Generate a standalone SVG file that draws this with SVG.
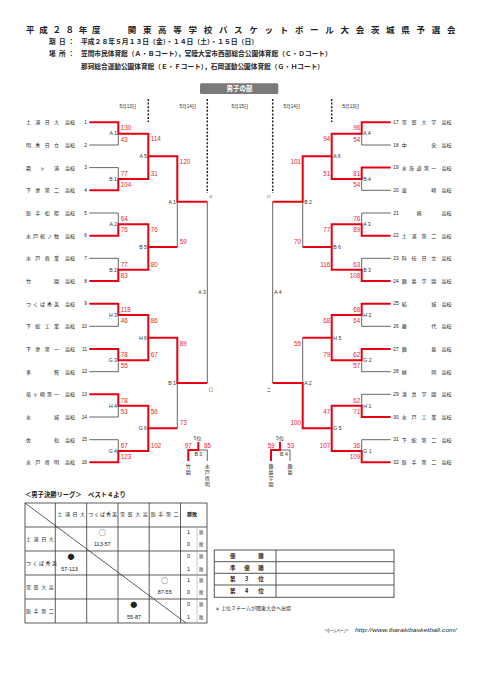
<svg xmlns="http://www.w3.org/2000/svg" width="481" height="680" viewBox="0 0 481 680">
<style>
text{font-family:'Noto Sans CJK JP','Noto Sans',sans-serif;fill:#222}
.hd{font-weight:700}
.nm{font-size:5px}
.no{font-family:'Liberation Sans',sans-serif;font-size:4.8px}
.dt{font-family:'Liberation Sans','Noto Sans CJK JP',sans-serif;font-size:4.6px;text-anchor:middle}
.sc{font-family:'Liberation Sans',sans-serif;font-size:6.3px;fill:#e8262d}
.scr{font-family:'Liberation Sans',sans-serif;font-size:6.3px;fill:#e8262d;text-anchor:end}
.ml{font-family:'Liberation Sans',sans-serif;font-size:5.2px;fill:#333;text-anchor:end}
.mr{font-family:'Liberation Sans',sans-serif;font-size:5.2px;fill:#333}
.kn{font-size:4.5px;fill:#444}
.r{stroke:#e60012;stroke-width:2;fill:none;stroke-linejoin:miter}
.g{stroke:#666;stroke-width:1;fill:none}
.d{stroke:#222;stroke-width:1.5;stroke-dasharray:2 1.6;fill:none}
.tl{stroke:#333;stroke-width:0.8;fill:none}
.tb{font-size:5px}
.tn{font-family:'Liberation Sans',sans-serif;font-size:5.5px;text-anchor:middle}
.sy{font-family:'Noto Sans CJK JP',sans-serif;font-size:7px;text-anchor:middle}
</style>
<rect width="481" height="680" fill="#fff"/>

<g id="header">
<text class="hd" x="26" y="32.5" font-size="8.5" letter-spacing="4.7">平成２８年度</text>
<text class="hd" x="127.7" y="32.5" font-size="8.5" letter-spacing="6.7">関東高等学校バスケットボール大会茨城県予選会</text>
<text class="hd" x="49 59 68" y="44.2" font-size="6.6">期日：</text>
<text class="hd" x="81" y="44.2" font-size="6.6" textLength="177" lengthAdjust="spacingAndGlyphs">平成２８年５月１３日（金）・１４日（土）・１５日（日）</text>
<text class="hd" x="49 59 68" y="55.8" font-size="6.6">場所：</text>
<text class="hd" x="81" y="55.8" font-size="6.6" textLength="250.7" lengthAdjust="spacingAndGlyphs">笠間市民体育館（Ａ・Ｂコート），常陸大宮市西部総合公園体育館（Ｃ・Ｄコート）</text>
<text class="hd" x="81" y="68.5" font-size="6.6" textLength="243" lengthAdjust="spacingAndGlyphs">那珂総合運動公園体育館（Ｅ・Ｆコート），石岡運動公園体育館（Ｇ・Ｈコート）</text>
</g>

<g id="section-title">
<rect x="200" y="83.3" width="78.3" height="10.7" rx="1.5" fill="#7a7a7a"/>
<text class="hd" x="239.5" y="91.2" font-size="6.5" text-anchor="middle" style="fill:#fff">男子の部</text>
</g>

<g id="dates">
<text class="dt" x="128" y="107.5">5月13日</text>
<text class="dt" x="188" y="107.5">5月14日</text>
<text class="dt" x="240" y="107.5">5月15日</text>
<text class="dt" x="292" y="107.5">5月14日</text>
<text class="dt" x="351" y="107.5">5月13日</text>
</g>

<g id="connectors">
<path class="d" d="M148.3 99V122M207.3 99V193M272.7 99V193M331.7 99V122"/>
<path class="g" d="M89.3 145H118.3V133.65M89.3 167.6H118.3V179M89.3 213H118.3V224.3M89.3 258.3H118.3V269.7M89.3 326.3H118.3V315M89.3 371.7H118.3V360.3M89.3 417H118.3V405.7M89.3 439.7H118.3V451"/>
<path class="g" d="M177.3 247V201.7M177.3 428.3V383M207.3 201.7V383"/>
<path class="g" d="M390.7 145H361.7V133.65M390.7 190.3H361.7V179M390.7 213H361.7V224.3M390.7 258.3H361.7V269.7M390.7 326.3H361.7V315M390.7 371.7H361.7V360.3M390.7 394.3H361.7V405.7M390.7 439.7H361.7V451"/>
<path class="g" d="M302.7 247V201.7M302.7 337.7V383M272.7 201.7V383"/>
<path class="r" d="M89.3 122.3H118.3V133.65H148.3V156.3H177.3V201.7H207.3"/>
<path class="r" d="M89.3 190.3H118.3V179H148.3V156.3"/>
<path class="r" d="M89.3 235.7H118.3V224.3H148.3V247"/>
<path class="r" d="M89.3 281H118.3V269.7H148.3V247H177.3"/>
<path class="r" d="M89.3 303.7H118.3V315H148.3V337.7H177.3V383H207.3"/>
<path class="r" d="M89.3 349H118.3V360.3H148.3V337.7"/>
<path class="r" d="M89.3 394.3H118.3V405.7H148.3V428.3"/>
<path class="r" d="M89.3 462.3H118.3V451H148.3V428.3H177.3"/>
<path class="r" d="M390.7 122.3H361.7V133.65H331.7V156.3H302.7V201.7H272.7"/>
<path class="r" d="M390.7 167.6H361.7V179H331.7V156.3"/>
<path class="r" d="M390.7 235.7H361.7V224.3H331.7V247"/>
<path class="r" d="M390.7 281H361.7V269.7H331.7V247H302.7"/>
<path class="r" d="M390.7 303.7H361.7V315H331.7V337.7"/>
<path class="r" d="M390.7 349H361.7V360.3H331.7V337.7H302.7"/>
<path class="r" d="M390.7 417H361.7V405.7H331.7V428.3"/>
<path class="r" d="M390.7 462.3H361.7V451H331.7V428.3H302.7V383H272.7"/>
<path class="g" d="M198.3 450H207.3V461M280 450H290V461"/>
<path class="r" d="M198.3 442V450H188.3V461M280 442V450H271V461"/>
</g>

<g id="teams-left">
<g id="t1"><text class="nm" x="26 35.3 44.7 54" y="124.2">土浦日大</text><text class="nm" x="65" y="124.2">高校</text><text class="no" x="87" y="124" text-anchor="end">1</text></g>
<g id="t2"><text class="nm" x="26 35.3 44.7 54" y="146.9">明秀日立</text><text class="nm" x="65" y="146.9">高校</text><text class="no" x="87" y="146.7" text-anchor="end">2</text></g>
<g id="t3"><text class="nm" x="26 40 54" y="169.5">霞ヶ浦</text><text class="nm" x="65" y="169.5">高校</text><text class="no" x="87" y="169.3" text-anchor="end">3</text></g>
<g id="t4"><text class="nm" x="26 35.3 44.7 54" y="192.2">下妻第二</text><text class="nm" x="65" y="192.2">高校</text><text class="no" x="87" y="192" text-anchor="end">4</text></g>
<g id="t5"><text class="nm" x="26 35.3 44.7 54" y="214.9">取手松陽</text><text class="nm" x="65" y="214.9">高校</text><text class="no" x="87" y="214.7" text-anchor="end">5</text></g>
<g id="t6"><text class="nm" x="26 33 40 47 54" y="237.6">水戸桜ノ牧</text><text class="nm" x="65" y="237.6">高校</text><text class="no" x="87" y="237.4" text-anchor="end">6</text></g>
<g id="t7"><text class="nm" x="26 35.3 44.7 54" y="260.2">水戸商業</text><text class="nm" x="65" y="260.2">高校</text><text class="no" x="87" y="260" text-anchor="end">7</text></g>
<g id="t8"><text class="nm" x="26 54" y="282.9">竹園</text><text class="nm" x="65" y="282.9">高校</text><text class="no" x="87" y="282.7" text-anchor="end">8</text></g>
<g id="t9"><text class="nm" x="26 33 40 47 54" y="305.6">つくば秀英</text><text class="nm" x="65" y="305.6">高校</text><text class="no" x="87" y="305.4" text-anchor="end">9</text></g>
<g id="t10"><text class="nm" x="26 35.3 44.7 54" y="328.2">下館工業</text><text class="nm" x="65" y="328.2">高校</text><text class="no" x="87" y="328" text-anchor="end">10</text></g>
<g id="t11"><text class="nm" x="26 35.3 44.7 54" y="350.9">下妻第一</text><text class="nm" x="65" y="350.9">高校</text><text class="no" x="87" y="350.7" text-anchor="end">11</text></g>
<g id="t12"><text class="nm" x="26 54" y="373.6">多賀</text><text class="nm" x="65" y="373.6">高校</text><text class="no" x="87" y="373.4" text-anchor="end">12</text></g>
<g id="t13"><text class="nm" x="26 33 40 47 54" y="396.2">竜ヶ崎第一</text><text class="nm" x="65" y="396.2">高校</text><text class="no" x="87" y="396" text-anchor="end">13</text></g>
<g id="t14"><text class="nm" x="26 54" y="418.9">水城</text><text class="nm" x="65" y="418.9">高校</text><text class="no" x="87" y="418.7" text-anchor="end">14</text></g>
<g id="t15"><text class="nm" x="26 54" y="441.6">佐和</text><text class="nm" x="65" y="441.6">高校</text><text class="no" x="87" y="441.4" text-anchor="end">15</text></g>
<g id="t16"><text class="nm" x="26 35.3 44.7 54" y="464.2">水戸啓明</text><text class="nm" x="65" y="464.2">高校</text><text class="no" x="87" y="464" text-anchor="end">16</text></g>
</g>

<g id="teams-right">
<g id="t17"><text class="no" x="393.3" y="124">17</text><text class="nm" x="401.7 411.6 421.4 431.3" y="124.2">常磐大学</text><text class="nm" x="441.5" y="124.2">高校</text></g>
<g id="t18"><text class="no" x="393.3" y="146.7">18</text><text class="nm" x="401.7 431.3" y="146.9">中央</text><text class="nm" x="441.5" y="146.9">高校</text></g>
<g id="t19"><text class="no" x="393.3" y="169.3">19</text><text class="nm" x="401.7 409.1 416.5 423.9 431.3" y="169.5">水海道第一</text><text class="nm" x="441.5" y="169.5">高校</text></g>
<g id="t20"><text class="no" x="393.3" y="192">20</text><text class="nm" x="401.7 431.3" y="192.2">波崎</text><text class="nm" x="441.5" y="192.2">高校</text></g>
<g id="t21"><text class="no" x="393.3" y="214.7">21</text><text class="nm" x="416.5" y="214.9">境</text><text class="nm" x="441.5" y="214.9">高校</text></g>
<g id="t22"><text class="no" x="393.3" y="237.4">22</text><text class="nm" x="401.7 411.6 421.4 431.3" y="237.6">土浦第二</text><text class="nm" x="441.5" y="237.6">高校</text></g>
<g id="t23"><text class="no" x="393.3" y="260">23</text><text class="nm" x="401.7 411.6 421.4 431.3" y="260.2">科技日立</text><text class="nm" x="441.5" y="260.2">高校</text></g>
<g id="t24"><text class="no" x="393.3" y="282.7">24</text><text class="nm" x="401.7 411.6 421.4 431.3" y="282.9">鹿島学園</text><text class="nm" x="441.5" y="282.9">高校</text></g>
<g id="t25"><text class="no" x="393.3" y="305.4">25</text><text class="nm" x="401.7 431.3" y="305.6">結城</text><text class="nm" x="441.5" y="305.6">高校</text></g>
<g id="t26"><text class="no" x="393.3" y="328">26</text><text class="nm" x="401.7 431.3" y="328.2">藤代</text><text class="nm" x="441.5" y="328.2">高校</text></g>
<g id="t27"><text class="no" x="393.3" y="350.7">27</text><text class="nm" x="401.7 431.3" y="350.9">鹿島</text><text class="nm" x="441.5" y="350.9">高校</text></g>
<g id="t28"><text class="no" x="393.3" y="373.4">28</text><text class="nm" x="401.7 431.3" y="373.6">緑岡</text><text class="nm" x="441.5" y="373.6">高校</text></g>
<g id="t29"><text class="no" x="393.3" y="396">29</text><text class="nm" x="401.7 411.6 421.4 431.3" y="396.2">清真学園</text><text class="nm" x="441.5" y="396.2">高校</text></g>
<g id="t30"><text class="no" x="393.3" y="418.7">30</text><text class="nm" x="401.7 411.6 421.4 431.3" y="418.9">水戸工業</text><text class="nm" x="441.5" y="418.9">高校</text></g>
<g id="t31"><text class="no" x="393.3" y="441.4">31</text><text class="nm" x="401.7 411.6 421.4 431.3" y="441.6">下館第二</text><text class="nm" x="441.5" y="441.6">高校</text></g>
<g id="t32"><text class="no" x="393.3" y="464">32</text><text class="nm" x="401.7 411.6 421.4 431.3" y="464.2">取手第二</text><text class="nm" x="441.5" y="464.2">高校</text></g>
</g>

<g id="matches-left">
<g id="mA1"><text class="ml" x="117" y="135.4">A 1</text><text class="sc" x="120.7" y="130.4">130</text><text class="sc" x="120.7" y="141.6">43</text></g>
<g id="mB1"><text class="ml" x="117" y="180.8">B 1</text><text class="sc" x="120.7" y="175.8">77</text><text class="sc" x="120.7" y="187">104</text></g>
<g id="mA2"><text class="ml" x="117" y="226.1">A 2</text><text class="sc" x="120.7" y="221.1">64</text><text class="sc" x="120.7" y="232.3">76</text></g>
<g id="mB2"><text class="ml" x="117" y="271.5">B 2</text><text class="sc" x="120.7" y="266.5">77</text><text class="sc" x="120.7" y="277.7">83</text></g>
<g id="mH3"><text class="ml" x="117" y="316.8">H 3</text><text class="sc" x="120.7" y="311.8">118</text><text class="sc" x="120.7" y="323">46</text></g>
<g id="mG3"><text class="ml" x="117" y="362.1">G 3</text><text class="sc" x="120.7" y="357.1">78</text><text class="sc" x="120.7" y="368.3">55</text></g>
<g id="mH4"><text class="ml" x="117" y="407.5">H 4</text><text class="sc" x="120.7" y="402.5">78</text><text class="sc" x="120.7" y="413.7">53</text></g>
<g id="mG4"><text class="ml" x="117" y="452.8">G 4</text><text class="sc" x="120.7" y="447.8">67</text><text class="sc" x="120.7" y="459">123</text></g>
<g id="mA5"><text class="ml" x="147" y="158.1">A 5</text><text class="sc" x="150.7" y="141.45">114</text><text class="sc" x="150.7" y="175.8">31</text></g>
<g id="mB5"><text class="ml" x="147" y="248.8">B 5</text><text class="sc" x="150.7" y="232.1">76</text><text class="sc" x="150.7" y="266.5">80</text></g>
<g id="mH6"><text class="ml" x="147" y="339.5">H 6</text><text class="sc" x="150.7" y="322.8">86</text><text class="sc" x="150.7" y="357.1">67</text></g>
<g id="mG6"><text class="ml" x="147" y="430.1">G 6</text><text class="sc" x="150.7" y="413.5">56</text><text class="sc" x="150.7" y="447.8">102</text></g>
<g id="mA1b"><text class="ml" x="176" y="203.5">A 1</text><text class="sc" x="179.7" y="164.1">120</text><text class="sc" x="179.7" y="243.8">59</text></g>
<g id="mB1b"><text class="ml" x="176" y="384.8">B 1</text><text class="sc" x="179.7" y="345.5">89</text><text class="sc" x="179.7" y="425.1">73</text></g>
<g id="mA3"><text class="ml" x="205.8" y="294.1">A 3</text><text class="kn" x="208.5" y="198">イ</text><text class="kn" x="208.5" y="391.2">ロ</text></g>
</g>

<g id="matches-right">
<g id="mA4"><text class="mr" x="363.2" y="135.4">A 4</text><text class="scr" x="360.2" y="130.4">96</text><text class="scr" x="360.2" y="141.6">54</text></g>
<g id="mB4"><text class="mr" x="363.2" y="180.8">B 4</text><text class="scr" x="360.2" y="175.8">81</text><text class="scr" x="360.2" y="187">54</text></g>
<g id="mA3r"><text class="mr" x="363.2" y="226.1">A 3</text><text class="scr" x="360.2" y="221.1">76</text><text class="scr" x="360.2" y="232.3">89</text></g>
<g id="mB3"><text class="mr" x="363.2" y="271.5">B 3</text><text class="scr" x="360.2" y="266.5">63</text><text class="scr" x="360.2" y="277.7">108</text></g>
<g id="mH2"><text class="mr" x="363.2" y="316.8">H 2</text><text class="scr" x="360.2" y="311.8">68</text><text class="scr" x="360.2" y="323">64</text></g>
<g id="mG2"><text class="mr" x="363.2" y="362.1">G 2</text><text class="scr" x="360.2" y="357.1">62</text><text class="scr" x="360.2" y="368.3">57</text></g>
<g id="mH1"><text class="mr" x="363.2" y="407.5">H 1</text><text class="scr" x="360.2" y="402.5">62</text><text class="scr" x="360.2" y="413.7">71</text></g>
<g id="mG1"><text class="mr" x="363.2" y="452.8">G 1</text><text class="scr" x="360.2" y="447.8">36</text><text class="scr" x="360.2" y="459">109</text></g>
<g id="mA6"><text class="mr" x="333.2" y="158.1">A 6</text><text class="scr" x="330.2" y="141.45">94</text><text class="scr" x="330.2" y="175.8">51</text></g>
<g id="mB6"><text class="mr" x="333.2" y="248.8">B 6</text><text class="scr" x="330.2" y="232.1">77</text><text class="scr" x="330.2" y="266.5">116</text></g>
<g id="mH5"><text class="mr" x="333.2" y="339.5">H 5</text><text class="scr" x="330.2" y="322.8">68</text><text class="scr" x="330.2" y="357.1">79</text></g>
<g id="mG5"><text class="mr" x="333.2" y="430.1">G 5</text><text class="scr" x="330.2" y="413.5">47</text><text class="scr" x="330.2" y="447.8">107</text></g>
<g id="mB2r"><text class="mr" x="304.2" y="203.5">B 2</text><text class="scr" x="301" y="164.1">101</text><text class="scr" x="301" y="243.8">70</text></g>
<g id="mA2r"><text class="mr" x="304.2" y="384.8">A 2</text><text class="scr" x="301" y="345.5">55</text><text class="scr" x="301" y="425.1">100</text></g>
<g id="mA4f"><text class="mr" x="274.2" y="294.1">A 4</text><text class="kn" x="266.5" y="198">ハ</text><text class="kn" x="266.5" y="391.2">ニ</text></g>
</g>

<g id="fifth-left">
<text class="nm" x="197.5" y="440" text-anchor="middle">5位</text>
<text class="sc" x="188.3" y="447.5" font-size="5" text-anchor="middle">97</text>
<text class="sc" x="207.5" y="447.5" font-size="5" text-anchor="middle">85</text>
<text class="mr" x="198.3" y="455.5" font-size="4.6" text-anchor="middle">B 3</text>
<text class="nm" x="185.8 185.8" y="467.5 473.5">竹園</text>
<text class="nm" x="204.8 204.8 204.8 204.8" y="467.5 473.5 479.5 485.5">水戸啓明</text>
</g>
<g id="fifth-right">
<text class="nm" x="280" y="440" text-anchor="middle">5位</text>
<text class="sc" x="271.3" y="447.5" font-size="5" text-anchor="middle">59</text>
<text class="sc" x="290.8" y="447.5" font-size="5" text-anchor="middle">53</text>
<text class="mr" x="284" y="455.5" font-size="4.6" text-anchor="middle">B 4</text>
<text class="nm" x="268.5 268.5 268.5 268.5" y="467.5 473.5 479.5 485.5">鹿島学園</text>
<text class="nm" x="287.5 287.5" y="467.5 473.5">鹿島</text>
</g>

<g id="league">
<text class="hd" x="25" y="497.3" font-size="6.3">＜男子決勝リーグ＞　ベスト４より</text>
<rect class="tl" x="25" y="503" width="182" height="120"/>
<path class="tl" d="M55.3 503V623M86.7 503V623M118 503V623M149.2 503V623M180.5 503V623M25 527H207M25 551H207M25 575H207M25 599H207M25 503L186 623"/>
<path stroke="#999" stroke-width="0.5" d="M197 527V623"/>
<text class="tb" x="57.3 64.9 72.5 80" y="516.3">土浦日大</text>
<text class="tb" x="88.3 94.2 100.1 106 111.9" y="516.3">つくば秀英</text>
<text class="tb" x="120 127.6 135.2 142.8" y="516.3">常磐大高</text>
<text class="tb" x="150.7 158.3 165.9 173.5" y="516.3">取手第二</text>
<text class="tb hd" x="187" y="516.3" font-size="5.5">勝敗</text>
<text class="tb" x="26 33.6 41.2 48.8" y="541">土浦日大</text>
<text class="tb" x="26 32.5 39 45.5 52" y="565">つくば秀英</text>
<text class="tb" x="26 33.6 41.2 48.8" y="589">常磐大高</text>
<text class="tb" x="26 33.6 41.2 48.8" y="613">取手第二</text>
<text class="sy" x="102.3" y="535">○</text>
<text class="tn" x="102.3" y="546.3">113-57</text>
<text class="sy" x="71" y="558.7">●</text>
<text class="tn" x="69.5" y="571.3">57-113</text>
<text class="sy" x="164.7" y="582.7">○</text>
<text class="tn" x="164.7" y="594.3">87-55</text>
<text class="sy" x="133.7" y="606.7">●</text>
<text class="tn" x="134" y="618.7">55-87</text>
<text class="tn" x="188.5" y="534.3">1</text><text class="tn" x="188.5" y="546.3">0</text>
<text class="tn" x="188.5" y="558">0</text><text class="tn" x="188.5" y="571.3">1</text>
<text class="tn" x="188.5" y="582">1</text><text class="tn" x="188.5" y="594.3">0</text>
<text class="tn" x="188.5" y="606">0</text><text class="tn" x="188.5" y="618.7">1</text>
<text class="kn" x="199" y="534.3">勝</text><text class="kn" x="199" y="546.3">敗</text>
<text class="kn" x="199" y="558">勝</text><text class="kn" x="199" y="571.3">敗</text>
<text class="kn" x="199" y="582">勝</text><text class="kn" x="199" y="594.3">敗</text>
<text class="kn" x="199" y="606">勝</text><text class="kn" x="199" y="618.7">敗</text>
</g>

<g id="ranking">
<rect x="214.3" y="550" width="179.7" height="47.3" fill="none" stroke="#555" stroke-width="1"/>
<path stroke="#555" stroke-width="1" d="M214.3 561.7H394M214.3 573.3H394M214.3 585H394M276 550V597.3"/>
<text class="hd" x="230 258.3" y="557.8" font-size="5.5">優勝</text>
<text class="hd" x="230 244.3 258.3" y="569.5" font-size="5.5">準優勝</text>
<text class="hd" x="230 245 258.3" y="581.2" font-size="5.5">第3位</text>
<text class="hd" x="230 245 258.3" y="593.2" font-size="5.5">第4位</text>
<text x="215" y="609.5" font-size="5">＊ 上位２チームが関東大会へ出場</text>
</g>

<g id="footer">
<text x="325" y="631.7" font-size="4.5" textLength="23.3" lengthAdjust="spacingAndGlyphs">&lt;ホームページ&gt;</text>
<text x="355" y="631.7" font-size="5.5" font-style="italic" style="font-family:'Liberation Sans',sans-serif" textLength="101.7" lengthAdjust="spacingAndGlyphs">http://www.ibarakibasketball.com/</text>
</g>
</svg>
